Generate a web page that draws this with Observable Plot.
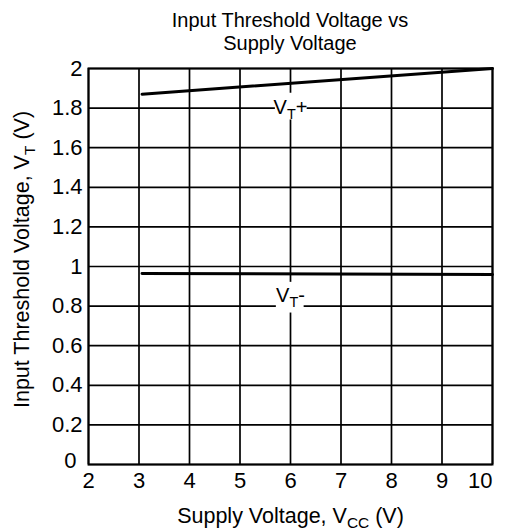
<!DOCTYPE html>
<html><head><meta charset="utf-8">
<script src="https://cdn.jsdelivr.net/npm/d3@7"></script>
<script src="https://cdn.jsdelivr.net/npm/@observablehq/plot@0.6"></script>
<style>
body{margin:0;background:#fff;font-family:"Liberation Sans",Arial,sans-serif;}
#title{position:relative;z-index:1;width:404px;margin-left:88px;height:46px;overflow:visible;text-align:center;font-size:20px;line-height:23px;padding-top:9px;box-sizing:border-box;color:#000}
#chart svg{display:block}
</style></head><body>
<div id="title"></div>
<div id="chart"></div>
<script>
const titleLines = ["Input Threshold Voltage vs", "Supply Voltage"];
const xTicks = [2, 3, 4, 5, 6, 7, 8, 9, 10];
const yTicks = [0, 0.2, 0.4, 0.6, 0.8, 1, 1.2, 1.4, 1.6, 1.8, 2];
const vtPlusX = [3.06, 10];
const vtPlusY = [1.87, 2.0];
const vtMinusX = [3.06, 10];
const vtMinusY = [0.965, 0.96];
const labelParts = [[["V"], ["T", true], ["+"]], [["V"], ["T", true], ["-"]]];
const labelX = [6, 6];
const labelY = [1.805, 0.855];
const boxX1 = [5.7, 5.72], boxX2 = [6.33, 6.27], boxY1 = [1.74, 0.765], boxY2 = [1.875, 0.92];
const xLabelParts = [["Supply Voltage, V"], ["CC", true], [" (V)"]];
const yLabelParts = [["Input Threshold Voltage, V"], ["T", true], [" (V)"]];

document.getElementById("title").innerHTML = titleLines.join("<br>");

const plain = parts => parts.map(p => p[0]).join("");
const labels = labelX.map((x, i) => ({x, y: labelY[i], t: plain(labelParts[i])}));
const boxes = boxX1.map((x1, i) => ({x1, x2: boxX2[i], y1: boxY1[i], y2: boxY2[i]}));
const plusData = vtPlusX.map((x, i) => ({x, y: vtPlusY[i]}));
const minusData = vtMinusX.map((x, i) => ({x, y: vtMinusY[i]}));
const fmtY = d => String(+d.toFixed(1));
const xFirst = xTicks.slice(0, -1), xLast = xTicks.slice(-1);
const yRest = yTicks.slice(1), yFirst = yTicks.slice(0, 1);
const TICK = 22, AXL = 21.5;

const chart = Plot.plot({
  width: 508, height: 485,
  marginLeft: 88, marginRight: 16, marginTop: 22, marginBottom: 67,
  style: {fontFamily: '"Liberation Sans", Arial, sans-serif', fontSize: "22px", color: "#000", background: "transparent"},
  x: {domain: [2, 10], label: null},
  y: {domain: [0, 2], label: null},
  marks: [
    Plot.ruleX(xTicks, {stroke: "#000", strokeWidth: 1.7}),
    Plot.ruleY(yTicks, {stroke: "#000", strokeWidth: 1.7}),
    Plot.frame({stroke: "#000", strokeWidth: 2}),
    Plot.line(plusData, {x: "x", y: "y", stroke: "#000", strokeWidth: 3}),
    Plot.line(minusData, {x: "x", y: "y", stroke: "#000", strokeWidth: 3}),
    Plot.rect(boxes, {x1: "x1", x2: "x2", y1: "y1", y2: "y2", fill: "#fff"}),
    Plot.axisX(xFirst, {tickSize: 0, tickPadding: 8, tickFormat: d => String(d), label: null, fill: "#000", fontSize: TICK}),
    Plot.text(xLast, {x: d => d, text: d => String(d), frameAnchor: "bottom", textAnchor: "end", lineAnchor: "top", dy: 8, fill: "#000", fontSize: TICK}),
    Plot.axisY(yRest, {tickSize: 0, tickPadding: 6, tickFormat: fmtY, label: null, fill: "#000", fontSize: TICK}),
    Plot.text(yFirst, {y: d => d, text: d => fmtY(d), frameAnchor: "left", textAnchor: "end", dx: -12, dy: -4, fill: "#000", fontSize: TICK}),
    Plot.text(labels, {x: "x", y: "y", text: "t", fontSize: 20, fill: "#000"}),
    Plot.text([plain(xLabelParts)], {frameAnchor: "bottom", dy: 58, fontSize: AXL, fill: "#000"}),
    Plot.text([plain(yLabelParts)], {frameAnchor: "left", textAnchor: "middle", rotate: -90, dx: -66, dy: -7, fontSize: AXL, fill: "#000"})
  ]
});
document.getElementById("chart").appendChild(chart);

function setParts(el, parts) {
  let fs = 20;
  for (let n = el; n && n.getAttribute; n = n.parentNode) {
    const a = n.getAttribute("font-size");
    if (a) { fs = parseFloat(a); break; }
  }
  const shift = fs * 0.25;
  while (el.firstChild) el.removeChild(el.firstChild);
  let down = false;
  for (const [s, sub] of parts) {
    const ts = document.createElementNS("http://www.w3.org/2000/svg", "tspan");
    ts.textContent = s;
    if (sub) { ts.setAttribute("font-size", fs * 0.72); ts.setAttribute("dy", shift); down = true; }
    else if (down) { ts.setAttribute("dy", -shift); down = false; }
    el.appendChild(ts);
  }
}
const allParts = [...labelParts, xLabelParts, yLabelParts];
chart.querySelectorAll("text").forEach(el => {
  const t = el.textContent;
  const p = allParts.find(pp => plain(pp) === t);
  if (p) setParts(el, p);
});
</script>
</body></html>
